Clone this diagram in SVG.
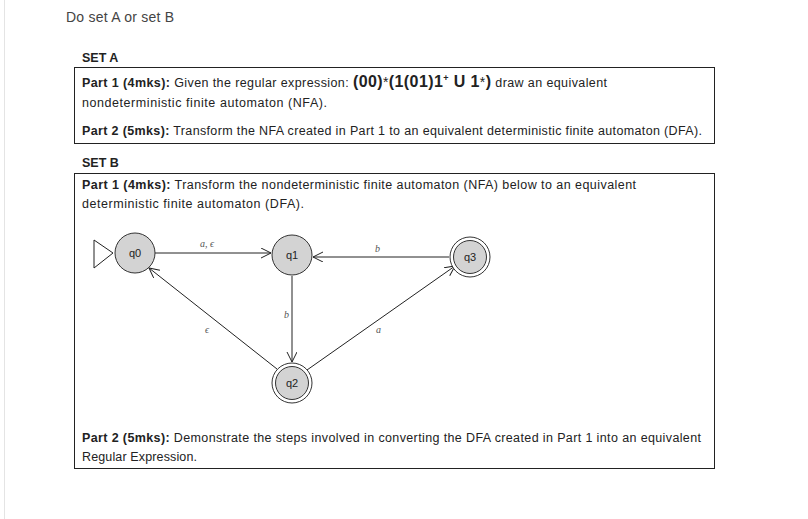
<svg xmlns="http://www.w3.org/2000/svg" width="808" height="519" viewBox="0 0 808 519">
<style>
text{font-family:"Liberation Sans",Arial,sans-serif;font-size:12.5px;fill:#222}
.b{font-weight:bold}
.box{fill:none;stroke:#222;stroke-width:1}
.st{fill:#d3d3d3;stroke:#333;stroke-width:1}
.lbl{font-family:"Liberation Serif",serif;font-style:italic;font-size:10px;fill:#555}
.sn{font-size:11px;fill:#222}
.e{stroke:#222;stroke-width:1;fill:none;marker-end:url(#ah)}
</style>
<defs><marker id="ah" markerWidth="12" markerHeight="12" refX="10" refY="5" orient="auto" markerUnits="userSpaceOnUse"><path d="M0,0 L10,5 L0,10" fill="none" stroke="#222"/></marker></defs>
<rect width="808" height="519" fill="#fff"/>
<line x1="4.5" y1="0" x2="4.5" y2="519" stroke="#e4e4e4"/>
<text x="66" y="22" style="font-size:14px;fill:#444" textLength="108">Do set A or set B</text>
<text x="82" y="62" class="b">SET A</text>
<rect class="box" x="74.5" y="67.5" width="640" height="76"/>
<text x="82" y="87" textLength="525"><tspan class="b">Part 1 (4mks):</tspan> Given the regular expression: <tspan class="b" style="font-size:16px">(00)</tspan><tspan style="font-size:14px">*</tspan><tspan class="b" style="font-size:16px">(1(01)1</tspan><tspan class="b" style="font-size:9px" dy="-6">+</tspan><tspan class="b" style="font-size:16px" dy="6"> U 1</tspan><tspan style="font-size:14px">*</tspan><tspan class="b" style="font-size:16px">)</tspan> draw an equivalent</text>
<text x="82" y="107" textLength="245">nondeterministic finite automaton (NFA).</text>
<text x="82" y="135" textLength="620"><tspan class="b">Part 2 (5mks):</tspan> Transform the NFA created in Part 1 to an equivalent deterministic finite automaton (DFA).</text>
<text x="82" y="167" class="b">SET B</text>
<rect class="box" x="74.5" y="173.5" width="640" height="295"/>
<text x="82" y="189" textLength="554"><tspan class="b">Part 1 (4mks):</tspan> Transform the nondeterministic finite automaton (NFA) below to an equivalent</text>
<text x="82" y="208" textLength="222">deterministic finite automaton (DFA).</text>
<g id="connectors">
<line class="e" x1="155" y1="253" x2="271" y2="253"/>
<line class="e" x1="449" y1="257" x2="313" y2="257"/>
<line class="e" x1="292" y1="276" x2="292" y2="362"/>
<line class="e" x1="277" y1="369" x2="149" y2="268"/>
<line class="e" x1="307" y1="370" x2="455" y2="266"/>
<text class="lbl" x="200" y="247">a, ϵ</text>
<text class="lbl" x="375" y="252">b</text>
<text class="lbl" x="284" y="318">b</text>
<text class="lbl" x="205" y="333">ϵ</text>
<text class="lbl" x="376" y="333">a</text>
</g>
<g id="q0"><path d="M94,240 L113,253 L94,268 Z" fill="#fff" stroke="#222"/><circle class="st" cx="135" cy="253" r="20"/><text class="sn" x="135" y="257" text-anchor="middle">q0</text></g>
<g id="q1"><circle class="st" cx="292" cy="255" r="20"/><text class="sn" x="292" y="259" text-anchor="middle">q1</text></g>
<g id="q3"><circle cx="470" cy="257" r="20" fill="#fff" stroke="#333"/><circle class="st" cx="470" cy="257" r="16.5"/><text class="sn" x="470" y="261" text-anchor="middle">q3</text></g>
<g id="q2"><circle cx="292" cy="383" r="20" fill="#fff" stroke="#333"/><circle class="st" cx="292" cy="383" r="16.5"/><text class="sn" x="292" y="387" text-anchor="middle">q2</text></g>
<text x="82" y="442" textLength="619"><tspan class="b">Part 2 (5mks):</tspan> Demonstrate the steps involved in converting the DFA created in Part 1 into an equivalent</text>
<text x="82" y="461" textLength="115">Regular Expression.</text>
</svg>
